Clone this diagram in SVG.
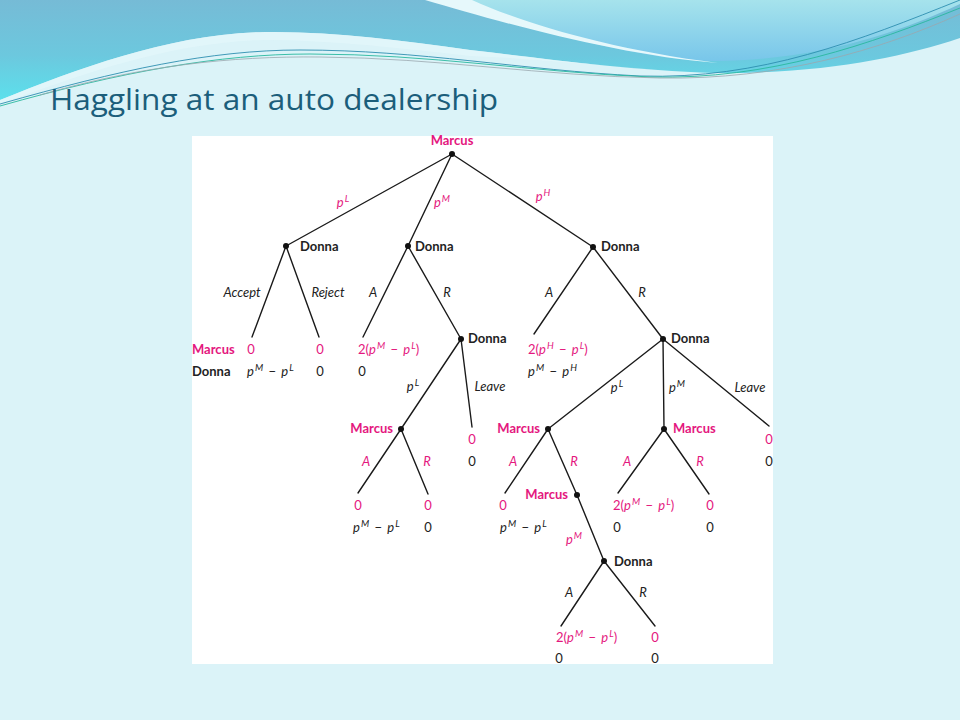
<svg xmlns="http://www.w3.org/2000/svg" width="960" height="720" viewBox="0 0 960 720">
<defs>
<linearGradient id="gBand" x1="0" y1="0" x2="0" y2="1">
<stop offset="0" stop-color="#76BBD6"/>
<stop offset="0.55" stop-color="#6CC8DE"/>
<stop offset="1" stop-color="#5CE0EC"/>
</linearGradient>
<linearGradient id="gRight" x1="0" y1="0" x2="0" y2="1">
<stop offset="0" stop-color="#A6E3EC"/>
<stop offset="1" stop-color="#78C6EA"/>
</linearGradient>
<style>
text{font-family:Lato,"Open Sans","Liberation Sans",sans-serif;font-size:13px}
.pk{fill:#E4177E}
.bk{fill:#222}
.b{font-weight:bold}
.it{font-style:italic}
.s{font-size:9.5px;font-style:italic}
.m{text-anchor:middle}
.e{text-anchor:end}
.edge line{stroke:#1a1a1a;stroke-width:1.4;stroke-linecap:round}
.dot{fill:#111}
</style>
</defs>
<rect x="0" y="0" width="960" height="720" fill="#DBF3F8"/>
<g id="header">
<path d="M0,0 H960 V38 C900,58 820,74 715,73 C620,70 540,58 470,50 C400,40 330,31 265,32 C170,34 80,68 0,100 Z" fill="url(#gBand)"/>
<path d="M430,0 H960 V4 C900,32 820,60 715,61 C640,60 560,35 430,0 Z" fill="url(#gRight)"/>
<path d="M425,0 C500,22 620,56 718,63 C610,50 520,22 472,0 Z" fill="#E6F8FB"/>
<path d="M0,100 C80,68 170,34 265,32 C330,31 400,40 470,50 C540,58 600,66 660,70 C560,62 520,58 470,56 C400,48 330,40 265,40 C170,42 80,75 0,104 Z" fill="#E2F6FA" opacity="0.8"/>
<path d="M0,104 C120,70 210,50 300,50 C420,50 520,70 640,76 C760,80 860,40 960,0" fill="none" stroke="#2E8FB0" stroke-width="0.9"/>
<path d="M0,106 C120,72 220,54 310,54 C430,54 530,72 650,77 C770,80 870,44 960,8" fill="none" stroke="#29B89E" stroke-width="0.9"/>
<path d="M40,95 C140,66 230,56 320,57 C440,58 540,76 660,78 C780,80 880,50 960,14" fill="none" stroke="#9AA7AE" stroke-width="0.8"/>
</g>
<text id="title" x="50" y="110" textLength="448" lengthAdjust="spacingAndGlyphs" style="font-family:'Open Sans','Noto Sans','Liberation Sans',sans-serif;font-size:30px;fill:#1B5E7B">Haggling at an auto dealership</text>
<rect id="panel" x="192" y="136" width="581" height="528" fill="#FFFFFF"/>
<g class="edge" id="connectors">
<line x1="452" y1="154" x2="286" y2="246"/>
<line x1="452" y1="154" x2="408" y2="246"/>
<line x1="452" y1="154" x2="593" y2="247"/>
<line x1="286" y1="246" x2="252" y2="337"/>
<line x1="286" y1="246" x2="319" y2="337"/>
<line x1="408" y1="246" x2="363" y2="337"/>
<line x1="408" y1="246" x2="461" y2="339"/>
<line x1="593" y1="247" x2="534" y2="334"/>
<line x1="593" y1="247" x2="663" y2="339"/>
<line x1="461" y1="339" x2="401" y2="429"/>
<line x1="461" y1="339" x2="472" y2="427"/>
<line x1="401" y1="429" x2="358" y2="493"/>
<line x1="401" y1="429" x2="428" y2="494"/>
<line x1="663" y1="339" x2="548" y2="429"/>
<line x1="663" y1="339" x2="664" y2="429"/>
<line x1="663" y1="339" x2="769" y2="426"/>
<line x1="548" y1="429" x2="505" y2="493"/>
<line x1="548" y1="429" x2="577" y2="495"/>
<line x1="664" y1="429" x2="618" y2="493"/>
<line x1="664" y1="429" x2="709" y2="494"/>
<line x1="577" y1="495" x2="604" y2="561"/>
<line x1="604" y1="561" x2="561" y2="626"/>
<line x1="604" y1="561" x2="655" y2="626"/>
</g>
<g id="edge-labels">
<text class="pk m" x="343" y="207"><tspan class="it">p</tspan><tspan class="s" dx="1" dy="-5">L</tspan></text>
<text class="pk m" x="442" y="207"><tspan class="it">p</tspan><tspan class="s" dx="1" dy="-5">M</tspan></text>
<text class="pk m" x="543" y="201"><tspan class="it">p</tspan><tspan class="s" dx="1" dy="-5">H</tspan></text>
<text class="bk it m" x="242" y="297">Accept</text>
<text class="bk it m" x="328" y="297">Reject</text>
<text class="bk it m" x="373" y="297">A</text>
<text class="bk it m" x="447" y="297">R</text>
<text class="bk it m" x="549" y="297">A</text>
<text class="bk it m" x="642" y="297">R</text>
<text class="bk m" x="413" y="391"><tspan class="it">p</tspan><tspan class="s" dx="1" dy="-5">L</tspan></text>
<text class="bk it m" x="490" y="391">Leave</text>
<text class="pk it m" x="366" y="466">A</text>
<text class="pk it m" x="427" y="466">R</text>
<text class="bk m" x="617" y="392"><tspan class="it">p</tspan><tspan class="s" dx="1" dy="-5">L</tspan></text>
<text class="bk m" x="677" y="392"><tspan class="it">p</tspan><tspan class="s" dx="1" dy="-5">M</tspan></text>
<text class="bk it m" x="750" y="392">Leave</text>
<text class="pk it m" x="513" y="466">A</text>
<text class="pk it m" x="574" y="466">R</text>
<text class="pk it m" x="627" y="466">A</text>
<text class="pk it m" x="700" y="466">R</text>
<text class="pk m" x="574" y="544"><tspan class="it">p</tspan><tspan class="s" dx="1" dy="-5">M</tspan></text>
<text class="bk it m" x="569" y="597">A</text>
<text class="bk it m" x="643" y="597">R</text>
</g>
<g id="n-root"><circle class="dot" cx="452" cy="154" r="3"/><text class="pk b m" x="452" y="145">Marcus</text></g>
<g id="n-donna1"><circle class="dot" cx="286" cy="246" r="3"/><text class="bk b" x="300" y="251">Donna</text></g>
<g id="n-donna2"><circle class="dot" cx="408" cy="246" r="3"/><text class="bk b" x="415" y="251">Donna</text></g>
<g id="n-donna3"><circle class="dot" cx="593" cy="247" r="3"/><text class="bk b" x="601" y="251">Donna</text></g>
<g id="n-donna4"><circle class="dot" cx="461" cy="339" r="3"/><text class="bk b" x="468" y="343">Donna</text></g>
<g id="n-donna5"><circle class="dot" cx="663" cy="339" r="3"/><text class="bk b" x="671" y="343">Donna</text></g>
<g id="n-marcus1"><circle class="dot" cx="401" cy="429" r="3"/><text class="pk b e" x="393" y="433">Marcus</text></g>
<g id="n-marcus2"><circle class="dot" cx="548" cy="429" r="3"/><text class="pk b e" x="540" y="433">Marcus</text></g>
<g id="n-marcus3"><circle class="dot" cx="664" cy="429" r="3"/><text class="pk b" x="673" y="433">Marcus</text></g>
<g id="n-marcus4"><circle class="dot" cx="577" cy="495" r="3"/><text class="pk b e" x="568" y="499">Marcus</text></g>
<g id="n-donna6"><circle class="dot" cx="604" cy="561" r="3"/><text class="bk b" x="614" y="566">Donna</text></g>
<g id="payoff-key">
<text class="pk b" x="192" y="354">Marcus</text>
<text class="bk b" x="192" y="376">Donna</text>
</g>
<g id="leaf-accept"><text class="pk m" x="251" y="354">0</text><text class="bk" x="247" y="376"><tspan class="it">p</tspan><tspan class="s" dx="1" dy="-5">M</tspan><tspan dx="2" dy="5"> − </tspan><tspan class="it" dx="2">p</tspan><tspan class="s" dx="1" dy="-5">L</tspan></text></g>
<g id="leaf-reject"><text class="pk m" x="320" y="354">0</text><text class="bk m" x="320" y="376">0</text></g>
<g id="leaf-d2a"><text class="pk" x="358" y="354">2(<tspan class="it">p</tspan><tspan class="s" dx="1" dy="-5">M</tspan><tspan dx="2" dy="5"> − </tspan><tspan class="it" dx="2">p</tspan><tspan class="s" dx="1" dy="-5">L</tspan><tspan dy="5">)</tspan></text><text class="bk m" x="362" y="376">0</text></g>
<g id="leaf-d3a"><text class="pk" x="528" y="354">2(<tspan class="it">p</tspan><tspan class="s" dx="1" dy="-5">H</tspan><tspan dx="2" dy="5"> − </tspan><tspan class="it" dx="2">p</tspan><tspan class="s" dx="1" dy="-5">L</tspan><tspan dy="5">)</tspan></text><text class="bk" x="528" y="376"><tspan class="it">p</tspan><tspan class="s" dx="1" dy="-5">M</tspan><tspan dx="2" dy="5"> − </tspan><tspan class="it" dx="2">p</tspan><tspan class="s" dx="1" dy="-5">H</tspan></text></g>
<g id="leaf-d4leave"><text class="pk m" x="472" y="444">0</text><text class="bk m" x="472" y="466">0</text></g>
<g id="leaf-m1a"><text class="pk m" x="358" y="510">0</text><text class="bk" x="353" y="532"><tspan class="it">p</tspan><tspan class="s" dx="1" dy="-5">M</tspan><tspan dx="2" dy="5"> − </tspan><tspan class="it" dx="2">p</tspan><tspan class="s" dx="1" dy="-5">L</tspan></text></g>
<g id="leaf-m1r"><text class="pk m" x="428" y="510">0</text><text class="bk m" x="428" y="532">0</text></g>
<g id="leaf-d5leave"><text class="pk m" x="769" y="444">0</text><text class="bk m" x="769" y="466">0</text></g>
<g id="leaf-m2a"><text class="pk m" x="503" y="510">0</text><text class="bk" x="500" y="532"><tspan class="it">p</tspan><tspan class="s" dx="1" dy="-5">M</tspan><tspan dx="2" dy="5"> − </tspan><tspan class="it" dx="2">p</tspan><tspan class="s" dx="1" dy="-5">L</tspan></text></g>
<g id="leaf-m3a"><text class="pk" x="613" y="510">2(<tspan class="it">p</tspan><tspan class="s" dx="1" dy="-5">M</tspan><tspan dx="2" dy="5"> − </tspan><tspan class="it" dx="2">p</tspan><tspan class="s" dx="1" dy="-5">L</tspan><tspan dy="5">)</tspan></text><text class="bk m" x="617" y="532">0</text></g>
<g id="leaf-m3r"><text class="pk m" x="710" y="510">0</text><text class="bk m" x="710" y="532">0</text></g>
<g id="leaf-d6a"><text class="pk" x="556" y="642">2(<tspan class="it">p</tspan><tspan class="s" dx="1" dy="-5">M</tspan><tspan dx="2" dy="5"> − </tspan><tspan class="it" dx="2">p</tspan><tspan class="s" dx="1" dy="-5">L</tspan><tspan dy="5">)</tspan></text><text class="bk m" x="559" y="663">0</text></g>
<g id="leaf-d6r"><text class="pk m" x="655" y="642">0</text><text class="bk m" x="655" y="663">0</text></g>
</svg>
